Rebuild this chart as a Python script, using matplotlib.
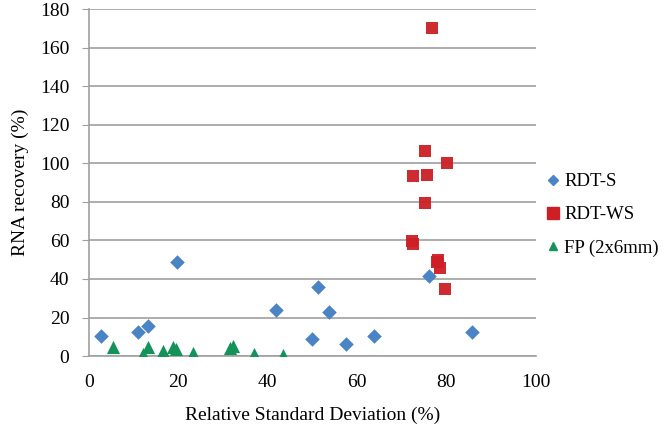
import matplotlib
matplotlib.use('Agg')
import matplotlib.pyplot as plt
from matplotlib.lines import Line2D

# RDT-S (blue diamonds)
rdt_s_x = [2.8, 11.0, 13.2, 19.8, 41.8, 51.2, 53.8, 50.0, 57.5, 63.8, 76.1, 85.8]
rdt_s_y = [10.5, 12.6, 15.7, 48.6, 23.7, 35.6, 22.8, 9.0, 6.4, 10.5, 41.7, 12.4]

# RDT-WS (red squares)
rdt_ws_x = [76.7, 75.2, 80.1, 72.6, 75.6, 75.2, 72.3, 72.5, 78.2, 77.8, 78.5, 79.7]
rdt_ws_y = [170.0, 106.2, 100.1, 93.2, 94.0, 79.4, 59.8, 58.3, 49.8, 48.6, 45.8, 34.6]

# FP (2x6mm) (green triangles)
fp_x = [5.3, 12.2, 13.3, 16.6, 16.9, 18.9, 19.6, 23.3, 31.5, 32.3, 36.9, 43.5]
fp_y = [4.5, 1.0, 4.5, 2.6, 0.5, 4.5, 3.6, 1.7, 4.0, 5.2, 0.9, 0.5]

labels = ['RDT-S', 'RDT-WS', 'FP (2x6mm)']

plt.rcParams['font.family'] = ['Liberation Serif', 'DejaVu Serif']

fig = plt.figure(figsize=(6.63, 4.29), dpi=100)
ax = fig.add_axes([0.134, 0.170, 0.674, 0.809])

blue = '#4a84c4'
red = '#cc1f26'
green = '#13935a'

ax.scatter(rdt_s_x, rdt_s_y, marker='D', s=55, color=blue, zorder=3, linewidths=0)
ax.scatter(rdt_ws_x, rdt_ws_y, marker='s', s=75, color=red, zorder=3, linewidths=0, alpha=0.95)
ax.scatter(fp_x, fp_y, marker='^', s=90, color=green, zorder=3, linewidths=0)

ax.set_xlim(0, 100)
ax.set_ylim(0, 180)
ax.set_xticks(range(0, 101, 20))
ax.set_yticks(range(0, 181, 20))
ax.yaxis.grid(True, color='#a0a0a0', linewidth=1.2)
ax.set_axisbelow(True)
for s in ['top', 'right']:
    ax.spines[s].set_visible(False)
ax.spines['left'].set_color('#a0a0a0')
ax.spines['bottom'].set_color('#a0a0a0')
ax.spines['left'].set_linewidth(1.2)
ax.spines['bottom'].set_linewidth(1.2)
ax.tick_params(axis='y', length=5, color='#a0a0a0', labelsize=14, pad=9)
ax.tick_params(axis='x', length=0, labelsize=14, pad=13)

ax.set_xlabel('Relative Standard Deviation (%)', fontsize=14, labelpad=11)
ax.set_ylabel('RNA recovery (%)', fontsize=14, labelpad=8)

handles = [
    Line2D([], [], marker='D', linestyle='', color=blue, markersize=5),
    Line2D([], [], marker='s', linestyle='', color=red, markersize=8),
    Line2D([], [], marker='^', linestyle='', color=green, markersize=6),
]
fig.legend(handles, labels, loc='center left', bbox_to_anchor=(0.82, 0.499),
           frameon=False, fontsize=13.5, handletextpad=0.1, labelspacing=0.85,
           handlelength=1.0, borderpad=0, borderaxespad=0)

fig.savefig('out.png', dpi=100)
